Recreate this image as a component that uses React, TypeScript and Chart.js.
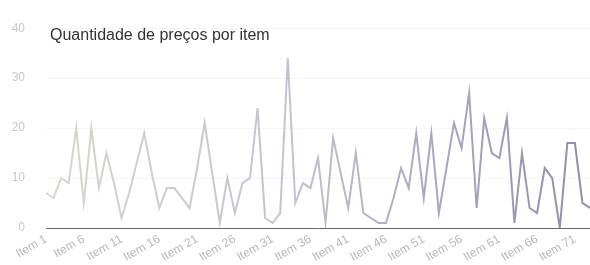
import React, { useEffect, useRef } from "react";
import { Chart, registerables } from "chart.js";

Chart.register(...registerables);

const TITLE = "Quantidade de preços por item";

const categories: string[] = Array.from({ length: 73 }, (_, i) => `Item ${i + 1}`);

const quantities: number[] = [
  7, 6, 10, 9, 20, 5, 20, 8, 15, 9,
  2, 7, 13, 19, 11, 4, 8, 8, 6, 4,
  12, 21, 11, 1, 10, 3, 9, 10, 24, 2,
  1, 3, 34, 5, 9, 8, 14, 1, 18, 11,
  4, 15, 3, 2, 1, 1, 6, 12, 8, 19,
  6, 19, 3, 12, 21, 16, 27, 4, 22, 15,
  14, 22, 1, 15, 4, 3, 12, 10, 0, 17,
  17, 5, 4,
];

const yTicks: number[] = [0, 10, 20, 30, 40];

const titlePlugin = {
  id: "insideTitle",
  afterDraw(chart: any) {
    const ctx = chart.ctx;
    ctx.save();
    ctx.font = '16px "Liberation Sans", Arial, sans-serif';
    ctx.fillStyle = "#333333";
    ctx.textBaseline = "alphabetic";
    ctx.textAlign = "left";
    ctx.fillText(TITLE, 50, 40);
    ctx.restore();
  },
};

export default function App() {
  const ref = useRef<HTMLCanvasElement | null>(null);

  useEffect(() => {
    if (!ref.current) return;
    const chart = new Chart(ref.current, {
      type: "line",
      data: {
        labels: categories,
        datasets: [
          {
            label: TITLE,
            data: quantities,
            borderWidth: 2,
            pointRadius: 0,
            tension: 0,
            fill: false,
            borderColor: (c: any) => {
              const ch = c.chart;
              const area = ch.chartArea;
              if (!area) return "#bbbbcc";
              const g = ch.ctx.createLinearGradient(area.left, 0, area.right, 0);
              g.addColorStop(0, "#d5d9cb");
              g.addColorStop(0.45, "#c2c2d0");
              g.addColorStop(1, "#8f8bae");
              return g;
            },
          },
        ],
      },
      options: {
        animation: false,
        responsive: false,
        layout: { padding: { top: 17, left: 0, right: 0, bottom: 0 } },
        plugins: {
          legend: { display: false },
          title: { display: false },
          tooltip: { enabled: false },
        },
        scales: {
          x: {
            offset: false,
            grid: { display: false, drawTicks: false },
            border: { display: true, color: "#666666", dash: [2, 2], width: 1 },
            ticks: {
              autoSkip: false,
              minRotation: 30,
              maxRotation: 30,
              padding: 4,
              color: "#b8b8b8",
              font: { size: 12, family: '"Liberation Sans", Arial, sans-serif' },
              callback: (_v: any, i: number) => (i % 5 === 0 ? categories[i] : ""),
            },
            afterFit: (s: any) => {
              s.height = 37;
              s.paddingLeft = 0;
              s.paddingRight = 0;
            },
          },
          y: {
            min: 0,
            max: 40,
            afterBuildTicks: (s: any) => {
              s.ticks = yTicks.map((v) => ({ value: v }));
            },
            grid: { display: true, drawTicks: false, color: "rgba(0,0,0,0.035)" },
            border: { display: false },
            ticks: {
              padding: 21,
              color: "#c8c8c8",
              font: { size: 12, family: '"Liberation Sans", Arial, sans-serif' },
            },
            afterFit: (s: any) => {
              s.width = 46;
            },
          },
        },
      },
      plugins: [titlePlugin],
    });
    return () => chart.destroy();
  }, []);

  return (
    <div style={{ position: "fixed", left: 0, top: 0, width: 590, height: 265, background: "#fff" }}>
      <canvas ref={ref} width={590} height={265} style={{ display: "block" }} />
    </div>
  );
}
